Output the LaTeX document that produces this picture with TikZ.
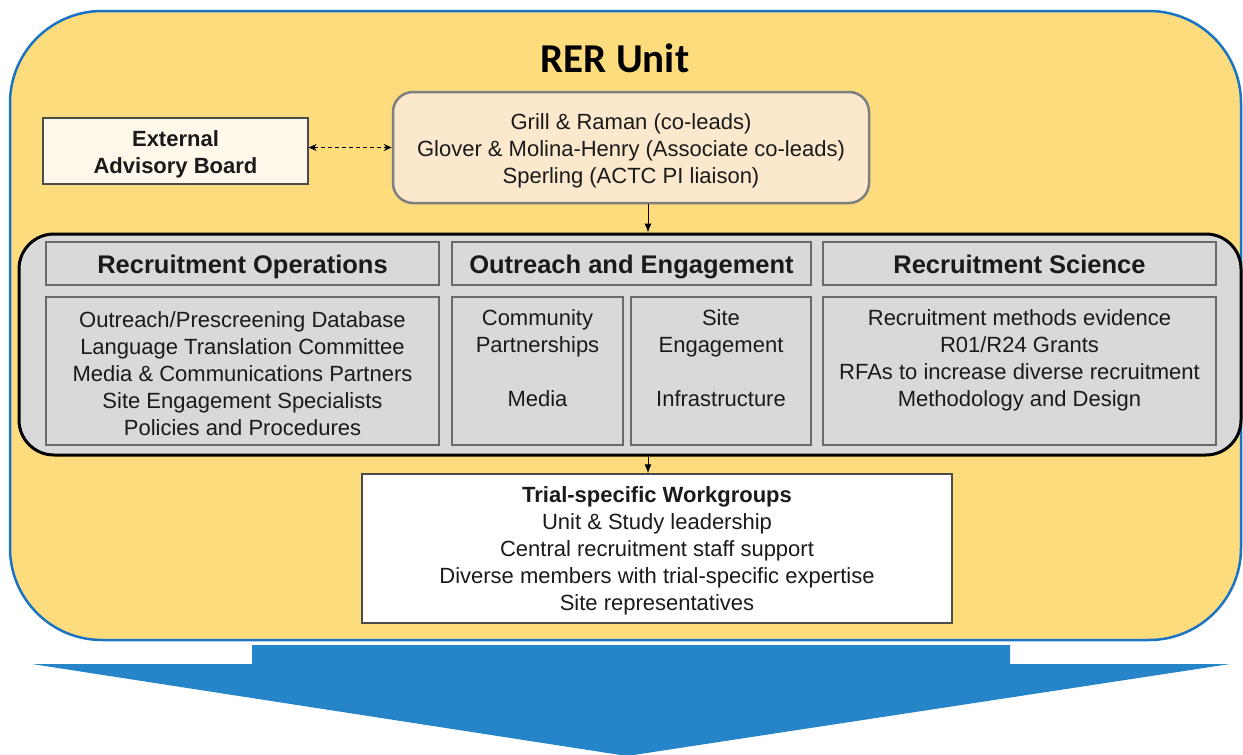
\documentclass[tikz,border=0pt]{standalone}
\usepackage{fontspec}
\setmainfont{Liberation Sans}
\newfontfamily\titlefont{Carlito}
\usetikzlibrary{arrows.meta}
\definecolor{outerfill}{HTML}{FDDC7D}
\definecolor{outerline}{HTML}{1B73C3}
\definecolor{leadfill}{HTML}{FCE8CD}
\definecolor{leadline}{HTML}{7F7F7F}
\definecolor{eabfill}{HTML}{FFF8EB}
\definecolor{midfill}{HTML}{D9D9D9}
\definecolor{boxline}{HTML}{6A6A6A}
\definecolor{bigarrow}{HTML}{2585C8}
\definecolor{txt}{HTML}{1A1A1A}
\tikzset{
  body/.style={font=\fontsize{22}{27}\selectfont, text=txt, align=center, inner sep=0pt, yshift=-3pt},
  hdr/.style={font=\fontsize{25.5}{30}\selectfont\bfseries, text=txt, align=center, inner sep=0pt,
    text height=22pt, text depth=1.6pt},
  greybox/.style={draw=boxline, line width=1.5pt, fill=midfill, inner sep=0pt},
  conn/.style={line width=1pt, -{Latex[length=9pt,width=7pt]}},
}
\begin{document}
\begin{tikzpicture}[x=1pt,y=-1pt]
\useasboundingbox (0,0) rectangle (1243,755);
% big blue arrow
\fill[bigarrow] (252,645) -- (1010,645) -- (1010,664) -- (1230,664) -- (627,756) -- (32,664) -- (252,664) -- cycle;
% outer unit
\node[draw=outerline, line width=2.5pt, fill=outerfill, rounded corners=92pt,
  minimum width=1231pt, minimum height=629pt, inner sep=0pt] (outer) at (625.5,325.5) {};
\node[font=\titlefont\fontsize{41}{47}\selectfont\bfseries, text=black, inner sep=0pt] (title) at (615,58) {RER Unit};
% external advisory board
\node[draw=black!70, line width=1.2pt, fill=eabfill, inner sep=0pt,
  minimum width=265pt, minimum height=66pt] (eab) at (175.5,151) {};
\node[body, font=\fontsize{22}{27}\selectfont\bfseries] (eab-t) at (eab) {External\\Advisory Board};
% leaders
\node[draw=leadline, line width=2.5pt, fill=leadfill, rounded corners=20pt, inner sep=0pt,
  minimum width=476pt, minimum height=111pt] (lead) at (631,147.5) {};
\node[body] (lead-t) at (lead)
  {Grill \& Raman (co-leads)\\Glover \& Molina-Henry (Associate co-leads)\\Sperling (ACTC PI liaison)};
\draw[line width=1pt, dash pattern=on 4pt off 3pt, {Stealth[length=8pt,width=7pt]}-{Stealth[length=8pt,width=7pt]}]
  (lead.west -| eab.east) -- (lead.west);
% middle block
\node[draw=black, line width=3pt, fill=midfill, rounded corners=35pt,
  minimum width=1222pt, minimum height=221pt, inner sep=0pt] (mid) at (630,344.5) {};
\coordinate (ax) at (648,0);
\draw[conn] (lead.south -| ax) -- (mid.north -| ax);
% headers
\node[hdr, greybox, minimum width=393pt, minimum height=43pt] (ro) at (242.5,263.5) {Recruitment Operations};
\node[hdr, greybox, minimum width=359pt, minimum height=43pt] (oe) at (631.5,263.5) {Outreach and Engagement};
\node[hdr, greybox, minimum width=393pt, minimum height=43pt] (rs) at (1019.5,263.5) {Recruitment Science};
% contents
\node[greybox, minimum width=393pt, minimum height=148pt] (roc) at (242.5,371) {};
\node[body] (roc-t) at (roc)
  {Outreach/Prescreening Database\\Language Translation Committee\\Media \& Communications Partners\\Site Engagement Specialists\\Policies and Procedures};
\node[greybox, minimum width=171pt, minimum height=148pt] (oea) at (537.5,371) {};
\node[body] (oea-t) at (oea) {Community\\Partnerships\\\phantom{Mg}\\Media\\\phantom{Mg}};
\node[greybox, minimum width=180pt, minimum height=148pt] (oeb) at (721,371) {};
\node[body] (oeb-t) at (oeb) {Site\\Engagement\\\phantom{Mg}\\Infrastructure\\\phantom{Mg}};
\node[greybox, minimum width=393pt, minimum height=148pt] (rsc) at (1019.5,371) {};
\node[body] (rsc-t) at (rsc)
  {Recruitment methods evidence\\R01/R24 Grants\\RFAs to increase diverse recruitment\\Methodology and Design\\\phantom{Mg}};
% trial-specific workgroups
\node[draw=black!70, line width=1.5pt, fill=white, inner sep=0pt, minimum width=590pt, minimum height=149pt] (trial) at (657,548.5) {};
\node[body, yshift=1pt] (trial-t) at (trial)
  {\textbf{Trial-specific Workgroups}\\Unit \& Study leadership\\Central recruitment staff support\\Diverse members with trial-specific expertise\\Site representatives};
\draw[conn] (mid.south -| ax) -- (trial.north -| ax);
\end{tikzpicture}
\end{document}
